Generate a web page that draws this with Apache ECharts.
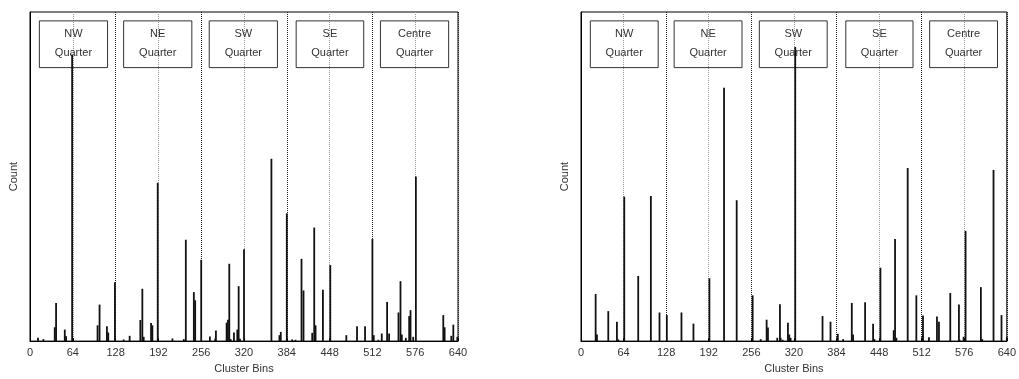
<!DOCTYPE html>
<html>
<head>
<meta charset="utf-8">
<script src="https://cdn.jsdelivr.net/npm/echarts@6/dist/echarts.min.js"></script>
<style>
html,body{margin:0;padding:0;background:#fff;}
#chart{width:1019px;height:379px;}
</style>
</head>
<body>
<div id="chart"></div>
<script>
// cluster bin ticks
var binTicks=[0,64,128,192,256,320,384,448,512,576,640]
var quarterNames=['NW','NE','SW','SE','Centre']

// left histogram [bin, count]
var leftBins=[[12,1.0],[20,0.6],[37,4.2],[39,11.6],[52,3.5],[54,1.5],[63,87.1],[101,4.8],[104,11.1],[115,4.5],[117,2.6],[127,17.9],[140,0.5],[149,1.6],
    [165,6.4],[168,15.9],[170,1.3],[181,5.5],[183,4.8],[191,48.1],[213,0.8],[230,0.6],[233,30.8],[245,14.9],[247,12.4],[256,24.7],[269,1.4],[277,0.8],[278,3.2],
    [294,5.6],[296,6.5],[298,23.5],[300,0.6],[305,2.6],[310,3.5],[312,16.7],[314,0.7],[320,27.9],
    [361,55.4],[373,1.8],[375,2.8],[384,38.8],[392,0.5],[397,0.4],[406,25.0],[409,15.4],[422,2.5],[425,34.5],[427,4.8],[438,15.6],[449,23.1],[473,1.8],
    [489,4.5],[501,4.5],[512,31.0],[514,1.8],[521,0.4],[526,2.3],[534,11.9],[537,2.3],[551,8.7],[554,18.2],[556,2.0],[562,1.0],[567,7.6],[569,9.4],[573,1.3],[577,50.0],
    [618,7.9],[620,4.2],[630,1.6],[633,5.0],[639,1.3]]

// right histogram [bin, count]
var rightBins=[[22,14.3],[24,2.0],[41,9.1],[54,5.9],[56,0.5],[65,43.9],[86,19.8],[105,44.1],[118,8.7],[129,7.9],[151,8.7],[169,5.3],[193,19.1],[215,77.0],
    [234,42.8],[258,13.9],[270,0.6],[279,6.5],[281,4.1],[295,1.0],[299,11.2],[300,1.0],[303,0.4],[311,5.6],[313,2.0],[315,1.0],[322,89.4],
    [363,7.6],[375,5.9],[385,1.2],[386,2.2],[394,0.6],[407,11.6],[409,2.0],[427,11.8],[439,5.3],[441,0.6],[450,22.3],[470,3.3],[472,31.0],[474,1.0],
    [491,52.6],[504,13.9],[513,1.6],[514,7.8],[523,1.2],[535,7.5],[538,5.9],[555,14.6],[568,11.1],[569,0.4],[575,1.3],[578,33.5],
    [601,16.4],[603,0.6],[620,52.0],[632,7.9],[640,1.3]]

var font='Liberation Sans'
// quarter boxes
var boxFrom=[14,140,268,398,524],boxTo=[116,242,370,499,626]

function $each(list,fn){for(var i=0;i<list.length;i++)fn(i,list[i])}

function boxes(){
    var arr=[]
    $each(quarterNames,function(i,name){
        arr.push([{xAxis:boxFrom[i],yAxis:83.1,name:name+'\nQuarter'},{xAxis:boxTo[i],yAxis:97.3}])
    })
    return arr
}

function xAxisOpt(idx){
    return {
        type:'value',gridIndex:idx,min:0,max:640,interval:64,
        name:'Cluster Bins',nameLocation:'middle',nameGap:18,
        nameTextStyle:{color:'#333',fontSize:11,fontFamily:font},
        axisLine:{show:true,lineStyle:{color:'#000'}},
        axisTick:{show:true,inside:true,length:3,lineStyle:{color:'#000'}},
        axisLabel:{color:'#333',fontSize:11,fontFamily:font,margin:6},
        splitLine:{show:true,lineStyle:{type:'dotted',width:1,color:['#222','#999']}}
    }
}
function yAxisOpt(idx){
    return {
        type:'value',gridIndex:idx,min:0,max:100,
        name:'Count',nameLocation:'middle',nameGap:11,
        nameTextStyle:{color:'#333',fontSize:11,fontFamily:font},
        axisLine:{show:true,lineStyle:{color:'#000'}},
        axisTick:{show:false},axisLabel:{show:false},splitLine:{show:false}
    }
}
function seriesOpt(idx,data){
    return {
        type:'bar',xAxisIndex:idx,yAxisIndex:idx,data:data,
        barWidth:1.8,itemStyle:{color:'#111'},silent:true,animation:false,
        markArea:{
            silent:true,
            itemStyle:{color:'rgba(0,0,0,0)',borderColor:'#333',borderWidth:1},
            label:{show:true,position:'inside',color:'#333',fontSize:11,fontFamily:font,lineHeight:19,offset:[0,-1]},
            data:boxes()
        }
    }
}

var myChart=echarts.init(document.getElementById('chart'),null,{renderer:'canvas'})
var option={
    backgroundColor:'#fff',
    animation:false,
    grid:[
        {left:30,right:561,top:12,bottom:36,show:true,borderColor:'#000',borderWidth:1},
        {left:581,right:10,top:12,bottom:36,show:true,borderColor:'#000',borderWidth:1}
    ],
    xAxis:[xAxisOpt(0),xAxisOpt(1)],
    yAxis:[yAxisOpt(0),yAxisOpt(1)],
    series:[seriesOpt(0,leftBins),seriesOpt(1,rightBins)]
}
myChart.setOption(option)
</script>
</body>
</html>
